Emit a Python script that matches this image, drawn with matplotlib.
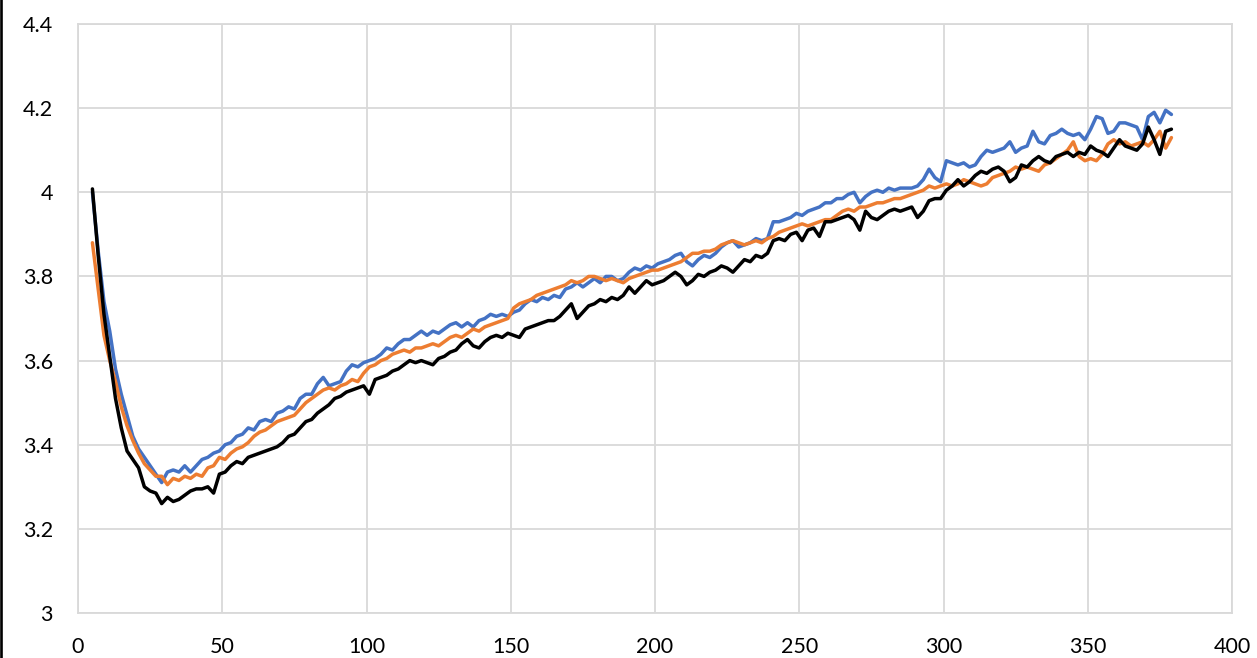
import numpy as np
import matplotlib.pyplot as plt
from matplotlib.lines import Line2D

plt.rcParams["font.family"] = ["Lato", "DejaVu Sans"]

# sample positions, every second step from 5 to 379
steps = np.arange(5, 381, 2)

blue_vals = [
    4.00, 3.86, 3.74, 3.67, 3.58, 3.52, 3.47, 3.42, 3.39, 3.37,
    3.35, 3.33, 3.31, 3.335, 3.34, 3.335, 3.35, 3.335, 3.35, 3.365,
    3.37, 3.38, 3.385, 3.40, 3.405, 3.42, 3.425, 3.44, 3.435, 3.455,
    3.46, 3.455, 3.475, 3.48, 3.49, 3.485, 3.51, 3.52, 3.52, 3.545,
    3.56, 3.54, 3.545, 3.55, 3.575, 3.59, 3.585, 3.595, 3.60, 3.605,
    3.615, 3.63, 3.625, 3.64, 3.65, 3.65, 3.66, 3.67, 3.66, 3.67,
    3.665, 3.675, 3.685, 3.69, 3.68, 3.69, 3.68, 3.695, 3.70, 3.71,
    3.705, 3.71, 3.705, 3.715, 3.72, 3.735, 3.745, 3.74, 3.75, 3.745,
    3.755, 3.75, 3.77, 3.775, 3.785, 3.775, 3.785, 3.795, 3.785, 3.80,
    3.80, 3.79, 3.795, 3.81, 3.82, 3.815, 3.825, 3.82, 3.83, 3.835,
    3.84, 3.85, 3.855, 3.835, 3.825, 3.84, 3.85, 3.845, 3.855, 3.87,
    3.88, 3.885, 3.87, 3.875, 3.88, 3.89, 3.885, 3.89, 3.93, 3.93,
    3.935, 3.94, 3.95, 3.945, 3.955, 3.96, 3.965, 3.975, 3.975, 3.985,
    3.985, 3.995, 4.00, 3.975, 3.99, 4.00, 4.005, 4.00, 4.01, 4.005,
    4.01, 4.01, 4.01, 4.015, 4.03, 4.055, 4.035, 4.025, 4.075, 4.07,
    4.065, 4.07, 4.06, 4.065, 4.085, 4.10, 4.095, 4.10, 4.105, 4.12,
    4.095, 4.105, 4.11, 4.145, 4.12, 4.115, 4.135, 4.14, 4.15, 4.14,
    4.135, 4.14, 4.125, 4.15, 4.18, 4.175, 4.14, 4.145, 4.165, 4.165,
    4.16, 4.155, 4.125, 4.18, 4.19, 4.165, 4.195, 4.185,
]

orange_vals = [
    3.88, 3.77, 3.66, 3.60, 3.55, 3.49, 3.445, 3.41, 3.38, 3.355,
    3.34, 3.325, 3.325, 3.305, 3.32, 3.315, 3.325, 3.32, 3.33, 3.325,
    3.345, 3.35, 3.37, 3.365, 3.38, 3.39, 3.395, 3.405, 3.42, 3.43,
    3.435, 3.445, 3.455, 3.46, 3.465, 3.47, 3.485, 3.50, 3.51, 3.52,
    3.53, 3.535, 3.53, 3.54, 3.545, 3.555, 3.55, 3.57, 3.585, 3.59,
    3.60, 3.605, 3.615, 3.62, 3.625, 3.62, 3.63, 3.63, 3.635, 3.64,
    3.635, 3.645, 3.655, 3.66, 3.655, 3.665, 3.675, 3.67, 3.68, 3.685,
    3.69, 3.695, 3.70, 3.725, 3.735, 3.74, 3.745, 3.755, 3.76, 3.765,
    3.77, 3.775, 3.78, 3.79, 3.785, 3.79, 3.80, 3.80, 3.795, 3.79,
    3.795, 3.79, 3.785, 3.795, 3.80, 3.805, 3.81, 3.815, 3.815, 3.82,
    3.825, 3.83, 3.835, 3.845, 3.855, 3.855, 3.86, 3.86, 3.865, 3.875,
    3.88, 3.885, 3.88, 3.875, 3.88, 3.885, 3.88, 3.89, 3.895, 3.905,
    3.91, 3.915, 3.92, 3.925, 3.92, 3.925, 3.93, 3.935, 3.935, 3.945,
    3.955, 3.96, 3.955, 3.965, 3.965, 3.97, 3.975, 3.975, 3.98, 3.985,
    3.985, 3.99, 3.995, 4.00, 4.005, 4.015, 4.01, 4.015, 4.02, 4.015,
    4.02, 4.03, 4.025, 4.02, 4.015, 4.02, 4.035, 4.04, 4.045, 4.05,
    4.06, 4.055, 4.06, 4.055, 4.05, 4.065, 4.07, 4.08, 4.09, 4.10,
    4.12, 4.085, 4.075, 4.08, 4.075, 4.09, 4.115, 4.125, 4.115, 4.12,
    4.11, 4.115, 4.12, 4.11, 4.125, 4.145, 4.105, 4.13,
]

black_vals = [
    4.008, 3.85, 3.71, 3.61, 3.51, 3.44, 3.385, 3.365, 3.345, 3.30,
    3.29, 3.285, 3.26, 3.275, 3.265, 3.27, 3.28, 3.29, 3.295, 3.295,
    3.30, 3.285, 3.33, 3.335, 3.35, 3.36, 3.355, 3.37, 3.375, 3.38,
    3.385, 3.39, 3.395, 3.405, 3.42, 3.425, 3.44, 3.455, 3.46, 3.475,
    3.485, 3.495, 3.51, 3.515, 3.525, 3.53, 3.535, 3.54, 3.52, 3.555,
    3.56, 3.565, 3.575, 3.58, 3.59, 3.60, 3.595, 3.60, 3.595, 3.59,
    3.605, 3.61, 3.62, 3.625, 3.64, 3.65, 3.635, 3.63, 3.645, 3.655,
    3.66, 3.655, 3.665, 3.66, 3.655, 3.675, 3.68, 3.685, 3.69, 3.695,
    3.695, 3.705, 3.72, 3.735, 3.70, 3.715, 3.73, 3.735, 3.745, 3.74,
    3.75, 3.745, 3.755, 3.775, 3.76, 3.775, 3.79, 3.78, 3.785, 3.79,
    3.80, 3.81, 3.80, 3.78, 3.79, 3.805, 3.80, 3.81, 3.815, 3.825,
    3.82, 3.81, 3.825, 3.84, 3.835, 3.85, 3.845, 3.855, 3.885, 3.89,
    3.885, 3.90, 3.905, 3.885, 3.91, 3.915, 3.895, 3.93, 3.93, 3.935,
    3.94, 3.945, 3.935, 3.91, 3.955, 3.94, 3.935, 3.945, 3.955, 3.96,
    3.955, 3.96, 3.965, 3.94, 3.955, 3.98, 3.985, 3.985, 4.005, 4.015,
    4.03, 4.015, 4.025, 4.04, 4.05, 4.045, 4.055, 4.06, 4.05, 4.025,
    4.035, 4.065, 4.06, 4.075, 4.085, 4.075, 4.07, 4.085, 4.09, 4.095,
    4.085, 4.095, 4.09, 4.11, 4.10, 4.095, 4.085, 4.105, 4.125, 4.11,
    4.105, 4.10, 4.115, 4.155, 4.125, 4.09, 4.145, 4.15,
]

x_ticks = [0, 50, 100, 150, 200, 250, 300, 350, 400]
y_ticks = [3, 3.2, 3.4, 3.6, 3.8, 4, 4.2, 4.4]
y_labels = ["3", "3.2", "3.4", "3.6", "3.8", "4", "4.2", "4.4"]

GRID = "#d9d9d9"

fig = plt.figure(figsize=(12.57, 6.58), dpi=100)
ax = fig.add_axes([78 / 1257, 1 - 613 / 658, (1232 - 78) / 1257, (613 - 24) / 658])

for vals, col in [(blue_vals, "#4472C4"), (orange_vals, "#ED7D31"), (black_vals, "black")]:
    ax.plot(steps, vals, color=col, lw=2.5, solid_joinstyle="round",
            solid_capstyle="round")

ax.set_xlim(0, 400)
ax.set_ylim(3, 4.4)
ax.set_xticks(x_ticks)
ax.set_yticks(y_ticks)
ax.set_yticklabels(y_labels)
ax.set_axisbelow(True)
ax.grid(color=GRID, lw=1.3)
for sp in ax.spines.values():
    sp.set_color(GRID)
    sp.set_linewidth(1.3)
ax.tick_params(length=0, labelsize=15.5, colors="black")
ax.tick_params(axis="y", pad=18)
ax.tick_params(axis="x", pad=17)

# dark frame edge on the left
fig.add_artist(Line2D([1.3 / 1257, 1.3 / 1257], [0, 1], color="black", lw=1.9,
                      transform=fig.transFigure))

fig.savefig("out.png", dpi=100)
